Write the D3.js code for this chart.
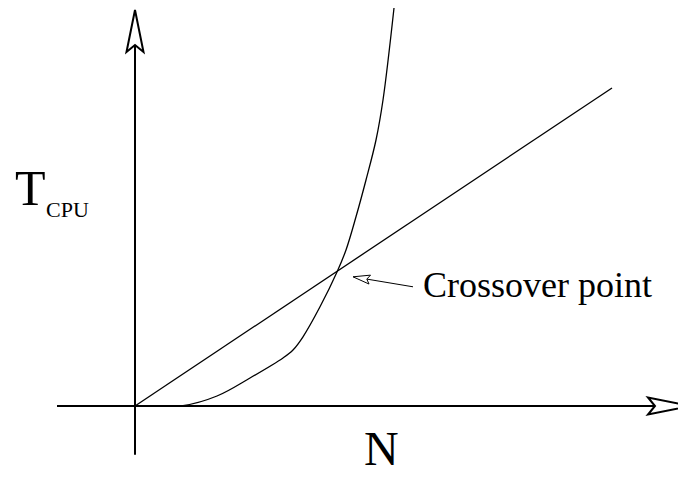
<!DOCTYPE html>
<html>
<head>
<meta charset="utf-8">
<script src="https://cdn.jsdelivr.net/npm/d3@7"></script>
<style>
  body { margin: 0; background: #fff; }
  svg { display: block; }
</style>
</head>
<body>
<svg id="chart"></svg>
<script>
let width = 678,
    height = 484;

let font = "'Liberation Serif', 'Times New Roman', Times, 'DejaVu Serif', serif"

// straight line (linear cost)
let lineN = [0, 9.54]
let lineT = [0, 7.95]

// steep curve (exponential cost)
let curveN = [0, 0.5, 0.96, 1.64, 2.3, 2.96, 3.16, 3.36, 3.7, 4.04, 4.22, 4.42, 4.62, 4.82, 4.96, 5.18]
let curveT = [0, 0, 0.01, 0.25, 0.7, 1.2, 1.4, 1.73, 2.48, 3.35, 3.9, 4.73, 5.65, 6.65, 7.65, 9.95]

// axis extents (start, arrow tip)
let axisN = [-1.56, 11.1]
let axisT = [-1.22, 9.9]

// pointer from label to crossover
let pointerN = [5.56, 4.36]
let pointerT = [2.98, 3.23]

let labels = { y: "T", ySub: "CPU", x: "N", note: "Crossover point" }

var x = d3.scaleLinear().domain([0, 10]).range([135, 635]);
var y = d3.scaleLinear().domain([0, 10]).range([406, 6]);

var svg = d3.select("#chart")
    .attr("width", width)
    .attr("height", height)

// arrow head: open, notched
function arrowHead(tip, dir, len, half, notch) {
    // dir is unit vector pointing to tip
    let bx = tip[0] - dir[0] * len, by = tip[1] - dir[1] * len
    let nx = tip[0] - dir[0] * (len - notch), ny = tip[1] - dir[1] * (len - notch)
    let px = -dir[1], py = dir[0]
    return "M" + tip[0] + "," + tip[1] +
        "L" + (bx + px * half) + "," + (by + py * half) +
        "L" + nx + "," + ny +
        "L" + (bx - px * half) + "," + (by - py * half) + "Z"
}

// axes
svg.append("line")
    .attr("x1", x(axisN[0])).attr("x2", x(axisN[1]) - 36)
    .attr("y1", y(0)).attr("y2", y(0))
    .attr("stroke", "#000").attr("stroke-width", 2)
svg.append("path")
    .attr("d", arrowHead([x(axisN[1]), y(0)], [1, 0], 42, 8.5, 7))
    .attr("fill", "#fff").attr("stroke", "#000").attr("stroke-width", 2)

svg.append("line")
    .attr("x1", x(0)).attr("x2", x(0))
    .attr("y1", y(axisT[0])).attr("y2", y(axisT[1]) + 36)
    .attr("stroke", "#000").attr("stroke-width", 2)
svg.append("path")
    .attr("d", arrowHead([x(0), y(axisT[1])], [0, -1], 42, 8.5, 7))
    .attr("fill", "#fff").attr("stroke", "#000").attr("stroke-width", 2)

// straight line
svg.append("path")
    .datum(d3.zip(lineN, lineT))
    .attr("d", d3.line().x(d => x(d[0])).y(d => y(d[1])))
    .attr("fill", "none").attr("stroke", "#000").attr("stroke-width", 1.3)

// curve
svg.append("path")
    .datum(d3.zip(curveN, curveT))
    .attr("d", d3.line().x(d => x(d[0])).y(d => y(d[1])).curve(d3.curveCatmullRom))
    .attr("fill", "none").attr("stroke", "#000").attr("stroke-width", 1.3)

// pointer arrow
let p0 = [x(pointerN[0]), y(pointerT[0])], p1 = [x(pointerN[1]), y(pointerT[1])]
let dx = p1[0] - p0[0], dy = p1[1] - p0[1], dl = Math.hypot(dx, dy)
let u = [dx / dl, dy / dl]
svg.append("line")
    .attr("x1", p0[0]).attr("y1", p0[1])
    .attr("x2", p1[0] - u[0] * 14).attr("y2", p1[1] - u[1] * 14)
    .attr("stroke", "#000").attr("stroke-width", 1)
svg.append("path")
    .attr("d", arrowHead(p1, u, 17, 4.5, 3))
    .attr("fill", "#fff").attr("stroke", "#000").attr("stroke-width", 1)

// labels
function label(tx, ty, size, str) {
    svg.append("text")
        .attr("x", tx).attr("y", ty)
        .attr("font-family", font)
        .attr("font-size", size)
        .attr("fill", "#000")
        .text(str)
}
label(15, 205, 50, labels.y)
label(46, 217, 22, labels.ySub)
label(364, 465, 48, labels.x)
label(423, 297, 36, labels.note)
</script>
</body>
</html>
